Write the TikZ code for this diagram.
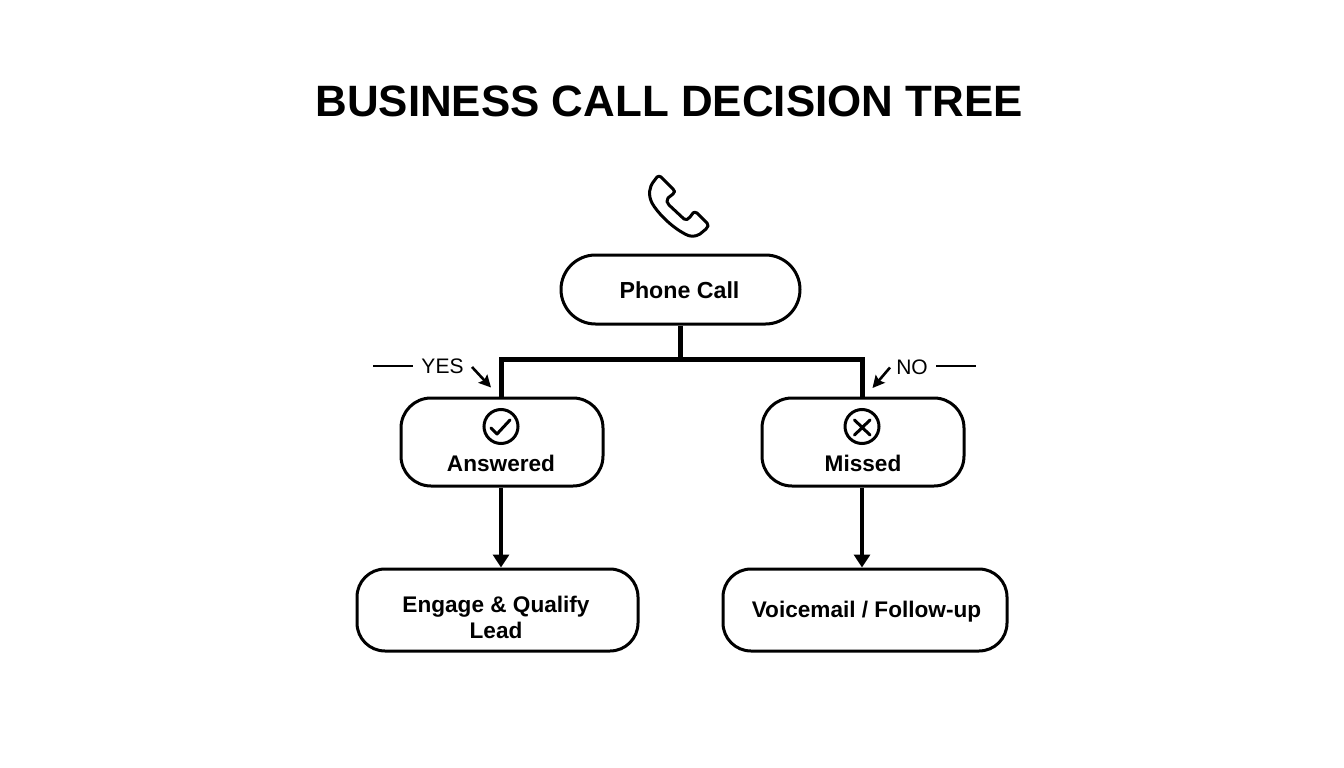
\documentclass[tikz,border=0pt]{standalone}
\usepackage{fontspec}
\setmainfont{Liberation Sans}
\usetikzlibrary{arrows.meta}
\tikzset{
  box/.style={draw=black,line width=3pt,fill=white,rounded corners=#1,inner sep=0pt},
  boxtext/.style={inner sep=0pt,align=center,font=\fontsize{22.6}{26}\selectfont\bfseries},
  trunk/.style={draw=black,line width=5pt},
  flow/.style={draw=black,line width=4.5pt,-{Triangle[length=13pt,width=16pt]}},
  icon/.style={draw=black,line width=3pt,line cap=round,line join=round},
  thin rule/.style={draw=black,line width=1.6pt},
  pointer/.style={draw=black,line width=2.6pt,-{Stealth[length=12pt,width=12pt,inset=2pt]}},
  tag/.style={inner sep=0pt,font=\fontsize{21}{24}\selectfont}
}
\begin{document}
\begin{tikzpicture}[x=1pt,y=-1pt]
\useasboundingbox (0,0) rectangle (1344,768);
\fill[white] (0,0) rectangle (1344,768);
\node[inner sep=0pt,font=\fontsize{43.9}{50}\selectfont\bfseries] (title) at (669,101) {BUSINESS CALL DECISION TREE};
% phone icon
\draw[icon] (661,177) -- (673,189) .. controls (675,191) and (675,192) .. (673,194)
  -- (668,198) .. controls (666,200) and (667,203) .. (669,205)
  -- (684,219) .. controls (686,221) and (688,219) .. (690,217)
  -- (693,213) .. controls (694,212) and (695,212) .. (697,213)
  -- (707,223) .. controls (709,225) and (708,227) .. (706,229)
  -- (700,234) .. controls (695,237) and (690,237) .. (685,234)
  .. controls (670,226) and (657,212) .. (652,203)
  .. controls (648,195) and (649,187) .. (654,181)
  -- (657,177) .. controls (658,176) and (660,176) .. (661,177) -- cycle;
% boxes
\node[box=34.5pt,minimum width=239pt,minimum height=69pt] (pc) at (680.5,289.5) {};
\node[box=30pt,minimum width=202pt,minimum height=88pt] (ans) at (502,442) {};
\node[box=30pt,minimum width=202pt,minimum height=88pt] (mis) at (863,442) {};
\node[box=28pt,minimum width=281pt,minimum height=82pt] (eng) at (497.5,610) {};
\node[box=28pt,minimum width=284pt,minimum height=82pt] (vm) at (865,610) {};
\node[boxtext,font=\fontsize{23.2}{26}\selectfont\bfseries] (pctxt) at (679.5,290.5) {Phone Call};
\node[boxtext] (anstxt) at (501,463.5) {Answered};
\node[boxtext] (mistxt) at (863,463.5) {Missed};
\node[boxtext] (engtxt) at (496,617) {Engage \& Qualify\\[0pt]Lead};
\node[boxtext] (vmtxt) at (866.5,612) {Voicemail / Follow-up};
% status icons
\node[circle,draw=black,line width=3pt,minimum size=34pt,inner sep=0pt] (ansic) at (501,426.5) {};
\node[circle,draw=black,line width=3pt,minimum size=34pt,inner sep=0pt] (misic) at (862,426.5) {};
\draw[icon] (491,428) -- (497,434) -- (510,420);
\draw[icon] (854.5,420) -- (870,435) (870,420) -- (854.5,435);
% connectors
\coordinate (busmid) at (pc.south |- 0,359);
\draw[trunk] (pc.south) -- (busmid);
\draw[trunk,line join=miter] ([xshift=-1pt]ans.north) |- (busmid) -| ([xshift=-1pt]mis.north);
\draw[flow] ([xshift=-1pt]ans.south) -- (eng.north -| 501,0);
\draw[flow] ([xshift=-1pt]mis.south) -- (vm.north -| 862,0);
% yes / no
\node[tag] (yes) at (442.5,366) {YES};
\node[tag] (no) at (912,367) {NO};
\coordinate (yl) at (373,366);
\coordinate (nr) at (976,366);
\draw[thin rule] (yl) -- (413,366);
\draw[thin rule] (936,366) -- (nr);
\coordinate (ya) at (491,387.5);
\coordinate (na) at (872.5,388);
\draw[pointer] (472,367) -- (ya);
\draw[pointer] (890,367.5) -- (na);
\end{tikzpicture}
\end{document}
